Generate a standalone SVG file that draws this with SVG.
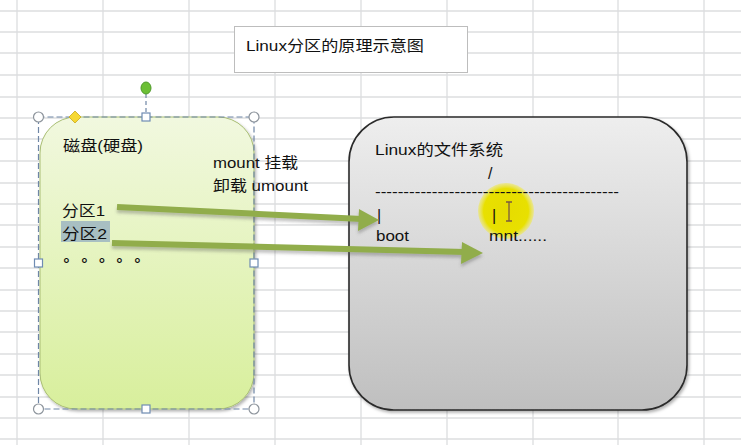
<svg xmlns="http://www.w3.org/2000/svg" width="741" height="445" viewBox="0 0 741 445">
<defs>
<style>
.t{font-family:"Liberation Sans","Noto Sans CJK SC",sans-serif;fill:#111;}
.grid line{stroke:#dcdedf;stroke-width:1.3;}
.sel{fill:none;stroke:#6f86a6;stroke-width:1.2;stroke-dasharray:6 3;}
.hc{fill:#fff;stroke:#8d949c;stroke-width:1.2;}
.hs{fill:#fff;stroke:#6f8cb3;stroke-width:1.2;}
.arr{fill:none;stroke:#91ad4c;stroke-width:6;stroke-linecap:butt;}
.arrh{fill:#91ad4c;}
</style>
<linearGradient id="gg" x1="0" y1="0" x2="0" y2="1">
<stop offset="0" stop-color="#f1f8df"/>
<stop offset="1" stop-color="#d8ef9c"/>
</linearGradient>
<linearGradient id="gr" x1="0" y1="0" x2="0" y2="1">
<stop offset="0" stop-color="#eeeeee"/>
<stop offset="1" stop-color="#bfbfbf"/>
</linearGradient>
<radialGradient id="yel" cx="0.5" cy="0.5" r="0.5">
<stop offset="0" stop-color="#e6dc00"/>
<stop offset="0.8" stop-color="#e8e000"/>
<stop offset="1" stop-color="#eee866" stop-opacity="0.6"/>
</radialGradient>
<filter id="ds" x="-10%" y="-10%" width="130%" height="130%">
<feDropShadow dx="1.5" dy="2" stdDeviation="1.5" flood-color="#000" flood-opacity="0.3"/>
</filter>
<filter id="ads" x="-10%" y="-50%" width="130%" height="250%">
<feDropShadow dx="0" dy="3" stdDeviation="1.5" flood-color="#555" flood-opacity="0.35"/>
</filter>
</defs>
<rect width="741" height="445" fill="#ffffff"/>
<g class="grid">
<line x1="0" y1="11" x2="741" y2="11"/><line x1="0" y1="32" x2="741" y2="32"/><line x1="0" y1="53" x2="741" y2="53"/><line x1="0" y1="75" x2="741" y2="75"/><line x1="0" y1="97" x2="741" y2="97"/><line x1="0" y1="118" x2="741" y2="118"/><line x1="0" y1="139" x2="741" y2="139"/><line x1="0" y1="161" x2="741" y2="161"/><line x1="0" y1="183" x2="741" y2="183"/><line x1="0" y1="204" x2="741" y2="204"/><line x1="0" y1="225" x2="741" y2="225"/><line x1="0" y1="247" x2="741" y2="247"/><line x1="0" y1="268" x2="741" y2="268"/><line x1="0" y1="290" x2="741" y2="290"/><line x1="0" y1="311" x2="741" y2="311"/><line x1="0" y1="332" x2="741" y2="332"/><line x1="0" y1="354" x2="741" y2="354"/><line x1="0" y1="375" x2="741" y2="375"/><line x1="0" y1="397" x2="741" y2="397"/><line x1="0" y1="418" x2="741" y2="418"/><line x1="0" y1="439" x2="741" y2="439"/>
<line x1="17" y1="0" x2="17" y2="445"/><line x1="103" y1="0" x2="103" y2="445"/><line x1="189" y1="0" x2="189" y2="445"/><line x1="275" y1="0" x2="275" y2="445"/><line x1="361" y1="0" x2="361" y2="445"/><line x1="447" y1="0" x2="447" y2="445"/><line x1="533" y1="0" x2="533" y2="445"/><line x1="618" y1="0" x2="618" y2="445"/><line x1="704" y1="0" x2="704" y2="445"/>
</g>
<g id="title">
<rect x="234.5" y="26.5" width="233" height="46" fill="#ffffff" stroke="#bdbdbd" stroke-width="1"/>
<text class="t" x="246" y="51" font-size="15" textLength="178" lengthAdjust="spacingAndGlyphs">Linux分区的原理示意图</text>
</g>
<g id="disk">
<rect x="40" y="117" width="214" height="292" rx="36" ry="36" fill="url(#gg)" stroke="#a9be74" stroke-width="1" filter="url(#ds)"/>
<text class="t" x="63" y="151" font-size="15" textLength="80" lengthAdjust="spacingAndGlyphs">磁盘(硬盘)</text>
<text class="t" x="62" y="216" font-size="15" textLength="43" lengthAdjust="spacingAndGlyphs">分区1</text>
<rect x="61" y="221" width="49" height="21" fill="#a8bfc2"/>
<text class="t" x="62" y="239" font-size="15" textLength="45" lengthAdjust="spacingAndGlyphs">分区2</text>
<text class="t" x="63.5 81.5 99 116.5 134.5" y="261" font-size="15" font-weight="bold">。。。。。</text>
</g>
<g id="selection">
<rect class="sel" x="38.5" y="117" width="215.5" height="292"/>
<line x1="146" y1="94" x2="146" y2="113" stroke="#6f86a6" stroke-width="1.2" stroke-dasharray="4 3"/>
<ellipse cx="146" cy="88" rx="5" ry="6" fill="#6cbf35" stroke="#4e9a28" stroke-width="1"/>
<circle class="hc" cx="38.5" cy="117" r="5"/><circle class="hc" cx="254" cy="117" r="5"/>
<circle class="hc" cx="38.5" cy="409" r="5"/><circle class="hc" cx="254" cy="409" r="5"/>
<rect class="hs" x="142" y="113" width="8" height="8"/><rect class="hs" x="142" y="405" width="8" height="8"/>
<rect class="hs" x="34.5" y="259" width="8" height="8"/><rect class="hs" x="250" y="259" width="8" height="8"/>
<path d="M75 111 L81 117 L75 123 L69 117 Z" fill="#f6d832" stroke="#c9a81a" stroke-width="0.8"/>
</g>
<g id="fs">
<rect x="349" y="117" width="338" height="293" rx="45" ry="45" fill="url(#gr)" stroke="#2a2a2a" stroke-width="1.6" filter="url(#ds)"/>
<circle cx="506" cy="211" r="28" fill="url(#yel)"/>
<text class="t" x="375" y="155" font-size="15" textLength="128" lengthAdjust="spacingAndGlyphs">Linux的文件系统</text>
<text class="t" x="488" y="179" font-size="16">/</text>
<text class="t" x="375" y="197" font-size="15" textLength="244" lengthAdjust="spacingAndGlyphs">-------------------------------------------</text>
<text class="t" x="377" y="221" font-size="16">|</text>
<text class="t" x="376" y="241" font-size="15" textLength="33" lengthAdjust="spacingAndGlyphs">boot</text>
<text class="t" x="492" y="221" font-size="16">|</text>
<text class="t" x="489" y="241" font-size="15" textLength="58" lengthAdjust="spacingAndGlyphs">mnt......</text>
<path d="M506 202 h6 M509 202 v19 M506 221 h6" fill="none" stroke="#7a5a40" stroke-width="1.3"/>
</g>
<g id="labels">
<text class="t" x="213" y="168" font-size="15" textLength="85" lengthAdjust="spacingAndGlyphs">mount 挂载</text>
<text class="t" x="213" y="191" font-size="15" textLength="95" lengthAdjust="spacingAndGlyphs">卸载 umount</text>
</g>
<g id="connectors" filter="url(#ads)">
<path class="arr" d="M117 207 L362 219"/>
<path class="arrh" d="M359 209 L379 220 L358 231 Z"/>
<path class="arr" d="M112 243 L465 252"/>
<path class="arrh" d="M462 242 L483 253 L461 264 Z"/>
</g>
</svg>
